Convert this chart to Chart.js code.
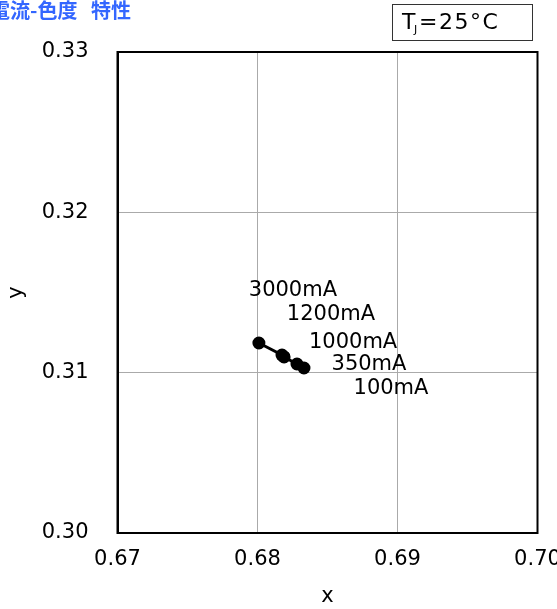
<!DOCTYPE html>
<html>
<head>
<meta charset="utf-8">
<script src="https://cdn.jsdelivr.net/npm/chart.js@4/dist/chart.umd.min.js"></script>
<style>
  html, body { margin: 0; padding: 0; background: #fff; overflow: hidden; }
  canvas { display: block; }
</style>
</head>
<body>
<canvas id="chart" width="557" height="609"></canvas>
<script>
// --- Data ---
const currents = ['3000mA', '1200mA', '1000mA', '350mA', '100mA'];
const cieX = [0.6801, 0.68175, 0.6819, 0.68282, 0.68332];
const cieY = [0.31185, 0.3111, 0.31098, 0.31054, 0.31029];
const xTicks = [0.67, 0.68, 0.69, 0.70];
const yTicks = [0.30, 0.31, 0.32, 0.33];

const titleParts = ['電流-色度', '特性'];
const FONT = 'Verdana, "DejaVu Sans", sans-serif';

// label offsets from each point (px)
const labelShift = [[34, -52], [49, -40], [69, -14], [72, 1], [87, 21]];

const points = cieX.map((x, i) => ({ x: x, y: cieY[i] }));

// frame, title, temp box, current labels
const decorPlugin = {
    id: 'decor',
    afterDraw(chart) {
        const ctx = chart.ctx;
        const a = chart.chartArea;
        ctx.save();
        ctx.strokeStyle = '#000';
        ctx.lineWidth = 2;
        ctx.strokeRect(a.left, a.top, a.right - a.left, a.bottom - a.top);

        // title (clipped on the left like the source)
        ctx.fillStyle = '#3366ff';
        ctx.font = 'bold 20px "Noto Sans CJK JP", sans-serif';
        ctx.textBaseline = 'middle';
        ctx.textAlign = 'left';
        ctx.fillText(titleParts[0], -10, 10);
        ctx.fillText(titleParts[1], 91, 10);

        // Tj box
        ctx.lineWidth = 1;
        ctx.strokeStyle = '#333';
        ctx.strokeRect(392.5, 4.5, 140, 36);
        ctx.fillStyle = '#000';
        ctx.font = '22px ' + FONT;
        ctx.fillText('T', 402, 23);
        ctx.font = '11px ' + FONT;
        ctx.fillText('J', 414, 30);
        ctx.font = '22px ' + FONT;
        ctx.letterSpacing = '1.5px';
        ctx.fillText('=25°C', 419, 23);
        ctx.letterSpacing = '0px';

        // current labels
        const meta = chart.getDatasetMeta(0);
        ctx.font = '21px ' + FONT;
        ctx.textAlign = 'center';
        meta.data.forEach((pt, i) => {
            ctx.fillText(currents[i], pt.x + labelShift[i][0], pt.y + labelShift[i][1]);
        });
        ctx.restore();
    }
};

new Chart(document.getElementById('chart'), {
    type: 'scatter',
    data: {
        datasets: [{
            label: 'chromaticity',
            data: points,
            showLine: true,
            borderColor: '#000',
            backgroundColor: '#000',
            borderWidth: 3,
            pointRadius: 5,
            pointHoverRadius: 5
        }]
    },
    options: {
        responsive: false,
        animation: false,
        layout: { padding: { top: 52, right: 19.5, left: 0, bottom: 0 } },
        plugins: {
            legend: { display: false },
            tooltip: { enabled: false }
        },
        scales: {
            x: {
                type: 'linear',
                min: 0.67,
                max: 0.70,
                afterBuildTicks: s => { s.ticks = xTicks.map(v => ({ value: v })); },
                afterFit: s => { s.height = 76; s.paddingLeft = 0; s.paddingRight = 0; },
                grid: { color: '#aaa', drawTicks: false },
                border: { color: '#000', width: 2 },
                ticks: {
                    color: '#000',
                    padding: 14,
                    font: { family: FONT, size: 21 },
                    callback: v => v.toFixed(2)
                },
                title: {
                    display: true,
                    text: 'x',
                    color: '#000',
                    font: { family: FONT, size: 21 },
                    padding: { top: 4, bottom: 0 }
                }
            },
            y: {
                type: 'linear',
                min: 0.30,
                max: 0.33,
                afterBuildTicks: s => { s.ticks = yTicks.map(v => ({ value: v })); },
                afterFit: s => { s.width = 117.5; s.paddingTop = 0; s.paddingBottom = 0; },
                grid: { color: '#aaa', drawTicks: false },
                border: { color: '#000', width: 2 },
                ticks: {
                    color: '#000',
                    padding: 29,
                    font: { family: FONT, size: 21 },
                    callback: v => v.toFixed(2)
                },
                title: {
                    display: true,
                    text: 'y',
                    color: '#000',
                    font: { family: FONT, size: 21 },
                    padding: { top: 4, bottom: 4 }
                }
            }
        }
    },
    plugins: [decorPlugin]
});
</script>
</body>
</html>
